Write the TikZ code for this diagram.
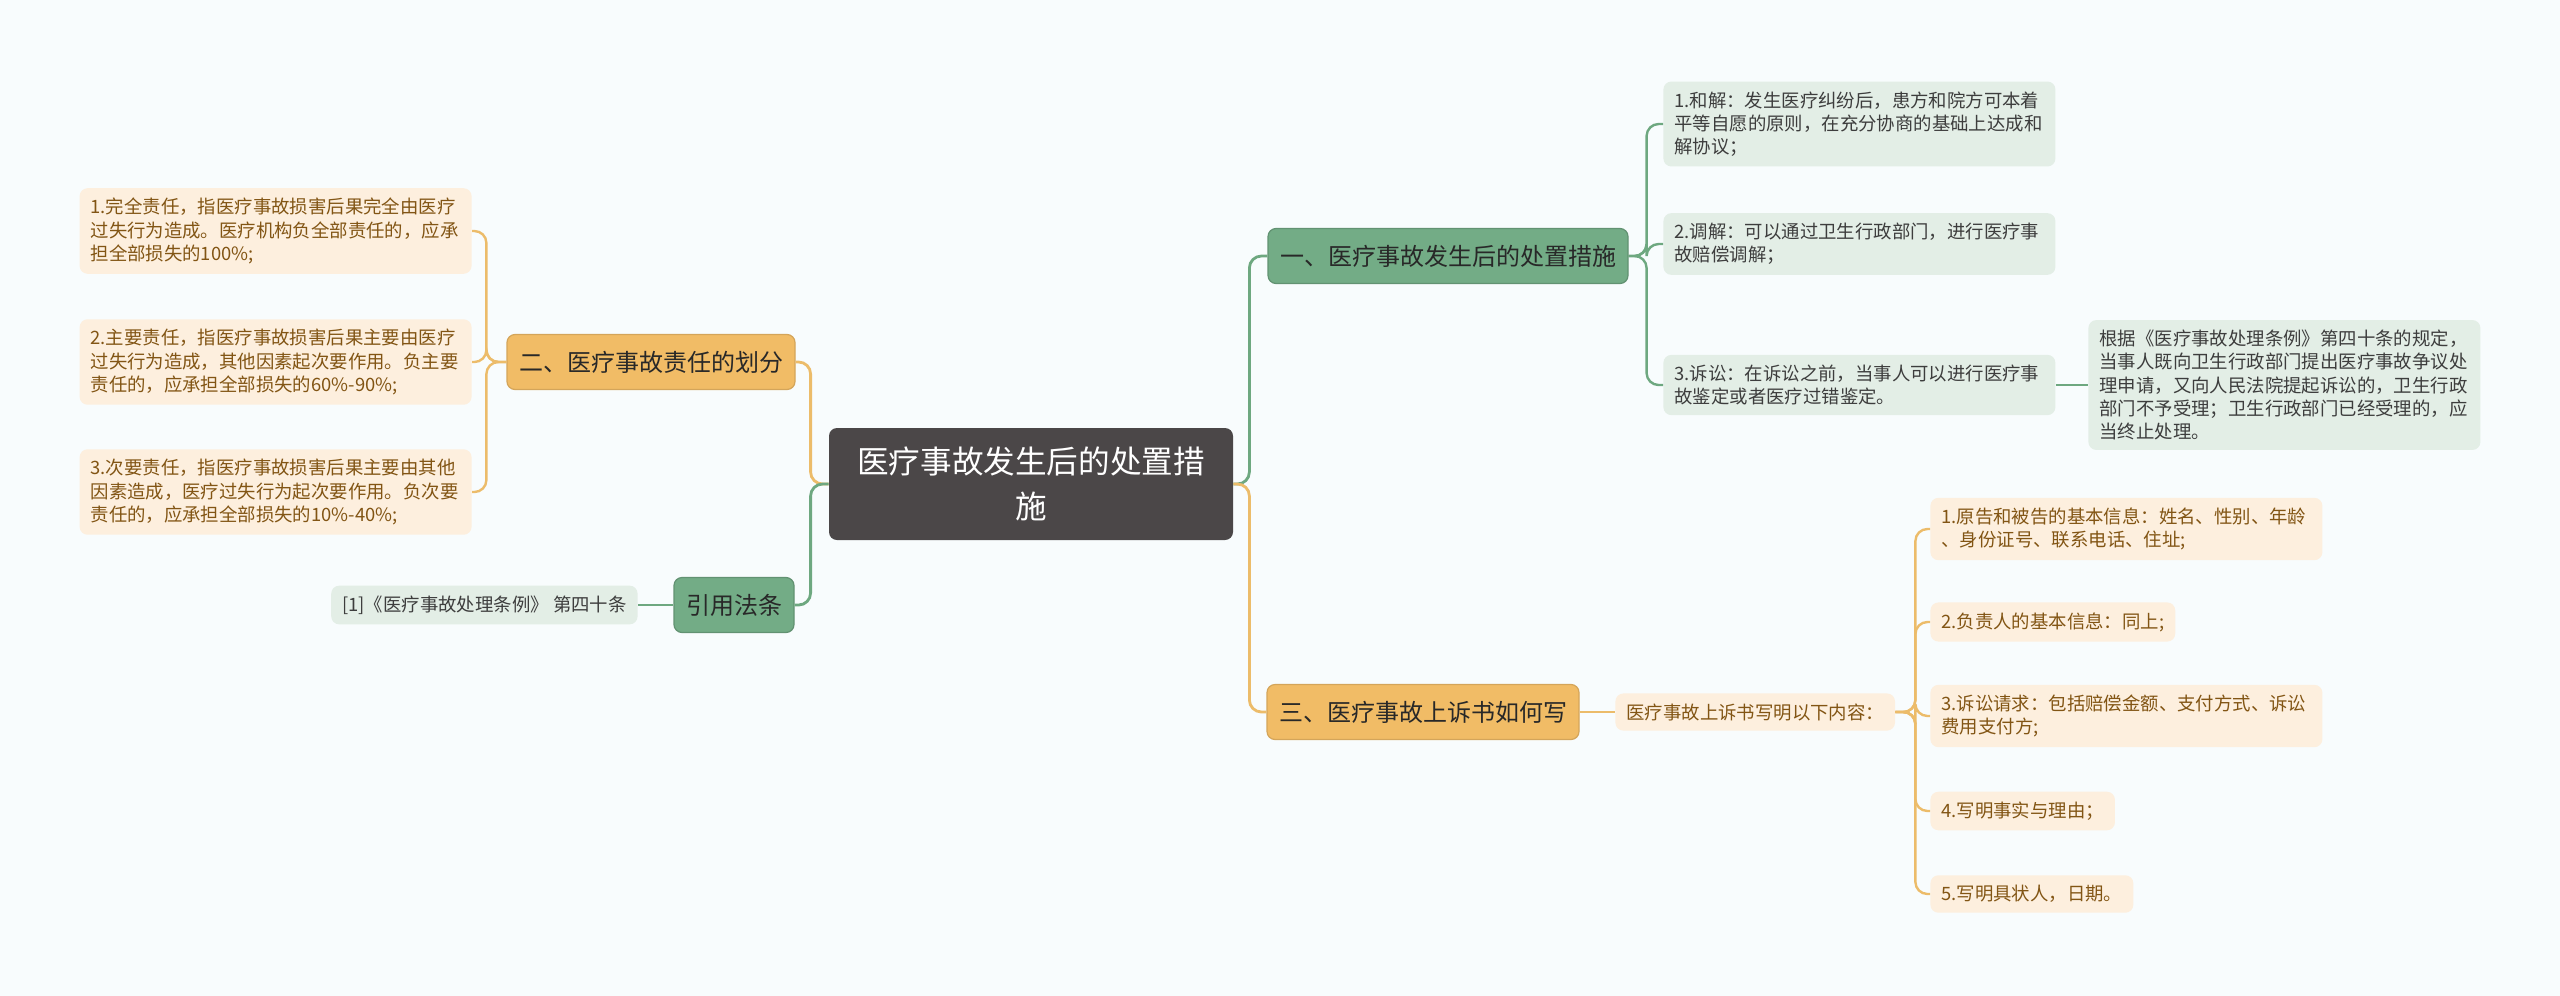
\documentclass[tikz,border=0pt]{standalone}
\usepackage{fontspec}
\newfontfamily\cjk{Noto Sans CJK SC}
\usetikzlibrary{positioning}
\definecolor{bgpaper}{RGB}{248,252,253}
\definecolor{rootgray}{RGB}{75,71,72}
\definecolor{mgreen}{RGB}{115,172,134}
\definecolor{lgreen}{RGB}{227,238,230}
\definecolor{ggline}{RGB}{110,168,128}
\definecolor{morange}{RGB}{241,188,102}
\definecolor{lorange}{RGB}{253,239,222}
\definecolor{ooline}{RGB}{236,188,106}
\definecolor{otext}{RGB}{130,85,20}
\definecolor{dtext}{RGB}{40,40,40}

\begin{document}
\begin{tikzpicture}[
    x=0.5pt,y=-0.5pt,
    root/.style={fill=rootgray,text=white,rounded corners=4pt,align=center,
                 minimum width=202pt,minimum height=56pt,
                 font=\cjk\fontsize{15.8}{22.5}\selectfont},
    topic/.style={rounded corners=4pt,inner xsep=6pt,minimum height=27.5pt,
                  text=dtext,font=\cjk\fontsize{12}{14}\selectfont},
    gtopic/.style={topic,fill=mgreen,draw=mgreen!85!black,line width=0.6pt},
    otopic/.style={topic,fill=morange,draw=morange!88!black,line width=0.6pt},
    leaf/.style={rounded corners=4pt,inner xsep=5.5pt,inner ysep=5pt,align=left,
                 font=\cjk\fontsize{9.2}{11.6}\selectfont},
    gleaf/.style={leaf,fill=lgreen,text=dtext!90},
    oleaf/.style={leaf,fill=lorange,text=otext},
    wide/.style={text width=185pt},
    gline/.style={draw=ggline,line width=1.4pt,rounded corners=6pt},
    oline/.style={draw=ooline,line width=1.4pt,rounded corners=6pt}
  ]

  %% ── Paper ─────────────────────────────────────────────────────────────────
  \fill[bgpaper] (0,0) rectangle (2560,996);

  %% ── Root and topics ───────────────────────────────────────────────────────
  \node[root] (root) at (1031,484) {医疗事故发生后的处置措\\施};

  \node[gtopic] (t1) at (1448,256) {一、医疗事故发生后的处置措施};
  \node[otopic] (t2) at (651,362) {二、医疗事故责任的划分};
  \node[otopic] (t3) at (1423,712) {三、医疗事故上诉书如何写};
  \node[gtopic] (tref) at (734,605) {引用法条};

  %% ── Topic 1 leaves ────────────────────────────────────────────────────────
  \node[gleaf,wide,anchor=west] (g1) at (1663,124)
      {1.和解：发生医疗纠纷后，患方和院方可本着\\平等自愿的原则，在充分协商的基础上达成和\\解协议；};
  \node[gleaf,wide,anchor=west] (g2) at (1663,244)
      {2.调解：可以通过卫生行政部门，进行医疗事\\故赔偿调解；};
  \node[gleaf,wide,anchor=west] (g3) at (1663,385)
      {3.诉讼：在诉讼之前，当事人可以进行医疗事\\故鉴定或者医疗过错鉴定。};
  \node[gleaf,wide,anchor=west] (gsub) at (2088,385)
      {根据《医疗事故处理条例》第四十条的规定，\\当事人既向卫生行政部门提出医疗事故争议处\\理申请，又向人民法院提起诉讼的，卫生行政\\部门不予受理；卫生行政部门已经受理的，应\\当终止处理。};

  %% ── Topic 2 leaves ────────────────────────────────────────────────────────
  \node[oleaf,wide,anchor=east] (l1) at (472,231)
      {1.完全责任，指医疗事故损害后果完全由医疗\\过失行为造成。医疗机构负全部责任的，应承\\担全部损失的100\%;};
  \node[oleaf,wide,anchor=east] (l2) at (472,362)
      {2.主要责任，指医疗事故损害后果主要由医疗\\过失行为造成，其他因素起次要作用。负主要\\责任的，应承担全部损失的60\%-90\%;};
  \node[oleaf,wide,anchor=east] (l3) at (472,492)
      {3.次要责任，指医疗事故损害后果主要由其他\\因素造成，医疗过失行为起次要作用。负次要\\责任的，应承担全部损失的10\%-40\%;};

  %% ── Topic 3 leaves ────────────────────────────────────────────────────────
  \node[oleaf,anchor=west] (c3) at (1615,712) {医疗事故上诉书写明以下内容：};
  \node[oleaf,wide,anchor=west] (o1) at (1930,529)
      {1.原告和被告的基本信息：姓名、性别、年龄\\、身份证号、联系电话、住址;};
  \node[oleaf,anchor=west] (o2) at (1930,622) {2.负责人的基本信息：同上;};
  \node[oleaf,wide,anchor=west] (o3) at (1930,716)
      {3.诉讼请求：包括赔偿金额、支付方式、诉讼\\费用支付方;};
  \node[oleaf,anchor=west] (o4) at (1930,811) {4.写明事实与理由；};
  \node[oleaf,anchor=west] (o5) at (1930,894) {5.写明具状人，日期。};

  %% ── Reference leaf ────────────────────────────────────────────────────────
  \node[gleaf,anchor=east] (ref) at (638,605) {[1]《医疗事故处理条例》 第四十条};

  %% ── Connectors ────────────────────────────────────────────────────────────
  \draw[gline] (root.east) -- ++(16,0) |- (t1.west);
  \draw[oline] (root.east) -- ++(16,0) |- (t3.west);
  \draw[oline] (root.west) -- ++(-18,0) |- (t2.east);
  \draw[gline] (root.west) -- ++(-18,0) |- (tref.east);

  \foreach \leaf in {g1,g2,g3}
    \draw[gline,line width=1.2pt] (t1.east) -- ++(18,0) |- (\leaf.west);
  \draw[gline,line width=1.2pt] (g3.east) -- (gsub.west);

  \foreach \leaf in {l1,l2,l3}
    \draw[oline,line width=1.2pt] (t2.west) -- ++(-20,0) |- (\leaf.east);

  \draw[oline,line width=1.2pt] (t3.east) -- (c3.west);
  \foreach \leaf in {o1,o2,o3,o4,o5}
    \draw[oline,line width=1.2pt] (c3.east) -- ++(20,0) |- (\leaf.west);

  \draw[gline,line width=1.2pt] (tref.west) -- (ref.east);

\end{tikzpicture}
\end{document}
